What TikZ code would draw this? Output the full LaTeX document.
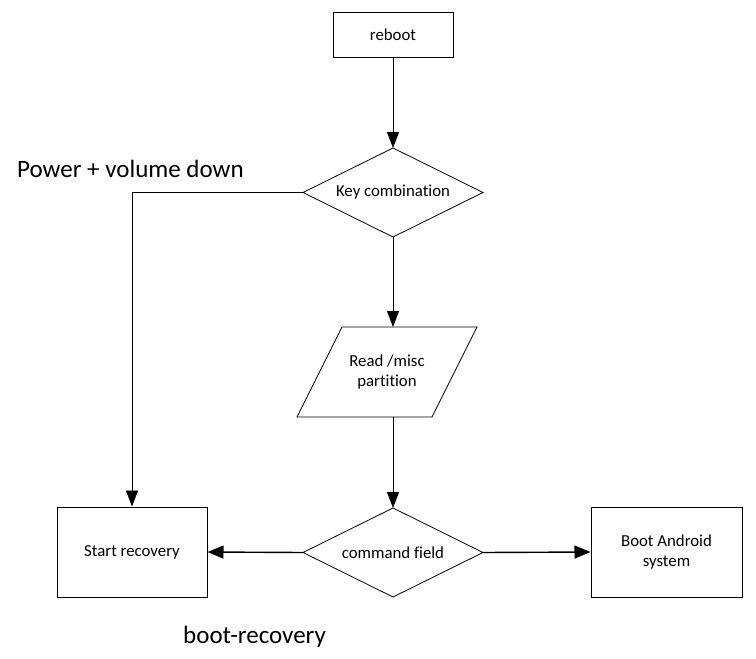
\documentclass[tikz,border=0pt]{standalone}
\usepackage{fontspec}
\setmainfont{Carlito}[Ligatures=NoCommon]
\usetikzlibrary{arrows.meta}
\begin{document}
\begin{tikzpicture}[x=1pt,y=-1pt,
  every node/.style={font=\fontsize{16.8}{20}\selectfont, inner sep=0pt},
  box/.style={draw, line width=1pt, rectangle, align=center},
  shapeline/.style={line width=0.8pt},
  biglabel/.style={font=\fontsize{25}{30}\selectfont, anchor=base west},
  conn/.style={line width=0.9pt, -{Triangle[length=16pt,width=12pt]}},
  thickconn/.style={line width=1.4pt, -{Triangle[length=16pt,width=13pt]}}]
\useasboundingbox (0,0) rectangle (756,659);
% rectangles
\node[box, minimum width=120pt, minimum height=45pt] (reboot) at (393,34.5) {reboot};
\node[box, minimum width=150pt, minimum height=90pt] (start) at (132,552) {Start recovery};
\node[box, minimum width=151pt, minimum height=90pt] (android) at (666.5,552) {Boot Android\\system};
% key combination diamond
\coordinate (keyN) at (393,148);
\coordinate (keyS) at (393,237);
\coordinate (keyW) at (303,192.5);
\coordinate (keyE) at (483,192.5);
\draw[shapeline] (keyN) -- (keyE) -- (keyS) -- (keyW) -- cycle;
\node (key) at (393,192.5) {Key combination};
% read /misc parallelogram
\coordinate (readtop) at (393,327);
\coordinate (readbot) at (393,417);
\draw[shapeline] (342,327) -- (477,327) -- (432,417) -- (297,417) -- cycle;
\node[align=center] (read) at (387,372) {Read /misc\\partition};
% command field diamond
\coordinate (cmdN) at (393,508);
\coordinate (cmdS) at (393,597);
\coordinate (cmdW) at (303,552.5);
\coordinate (cmdE) at (483,552.5);
\draw[shapeline] (cmdN) -- (cmdE) -- (cmdS) -- (cmdW) -- cycle;
\node (cmd) at (393,552.5) {command field};
% labels
\node[biglabel] (lpower) at (17,177) {Power + volume down};
\node[biglabel] (lboot) at (183,643) {boot-recovery};
% connectors
\draw[conn] (reboot.south) -- (keyN);
\draw[conn] (keyS) -- (readtop);
\draw[conn] (readbot) -- (cmdN);
\draw[conn] (keyW) -| (start.north);
\draw[thickconn] (cmdW) -- (start.east);
\draw[thickconn] (cmdE) -- (android.west);
\end{tikzpicture}
\end{document}
